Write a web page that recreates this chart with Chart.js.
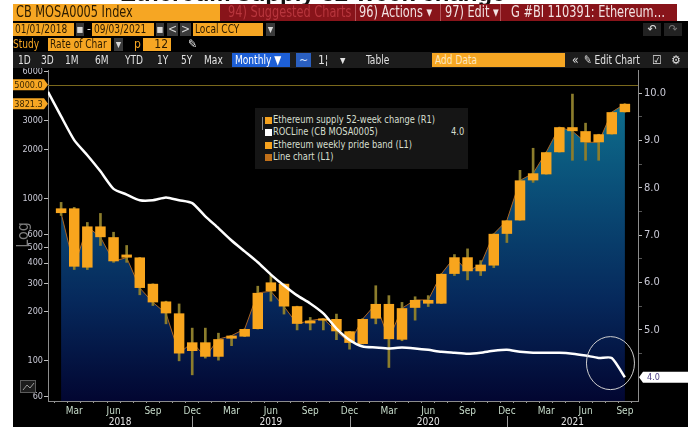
<!DOCTYPE html>
<html>
<head>
<meta charset="utf-8">
<title>CB MOSA0005 Index</title>
<script src="https://cdn.jsdelivr.net/npm/chart.js@4.4.1/dist/chart.umd.min.js"></script>
<style>
  body { margin: 0; width: 688px; height: 427px; overflow: hidden; background: #fff; position: relative;
         font-family: "Liberation Sans Narrow", "DejaVu Sans Condensed", "Liberation Sans", sans-serif; }
  #graphique { position: absolute; left: 0; top: 0; }
  .b { position: absolute; white-space: nowrap; box-sizing: border-box; overflow: visible; }
  .n { display: inline-block; transform: scaleX(0.84); transform-origin: 0 50%; }
  .r1 { top: 4px; height: 17px; line-height: 17px; font-size: 15px; }
  .r2 { top: 23px; height: 13px; line-height: 13px; font-size: 12px; }
  .r3 { top: 38px; height: 13px; line-height: 13px; font-size: 12px; }
  .r4 { top: 53px; height: 14px; line-height: 14px; font-size: 12px; color: #e2e2e2; }
  .or { background: #f6a623; color: #2b1b00; padding-left: 2px; }
  .gr { background: #3a3a3a; color: #d8d8d8; text-align: center; }
  .txt-or { color: #f6a623; }
  #titre { left: 120px; top: -21px; font: bold 24px "Liberation Sans", sans-serif; color: #111; }
  #legende { left: 255px; top: 108px; width: 213px; height: 61px; background: #151515; }
  .leg { position: absolute; left: 18px; font-size: 11px; line-height: 12px; color: #d6dfcf; white-space: nowrap; }
  .carre { position: absolute; left: -8px; top: 3px; width: 7px; height: 7px; }
</style>
</head>
<body>
<canvas id="graphique" width="688" height="427"></canvas>

<!-- titre coupé en haut de la capture -->
<div class="b" id="titre">Ethereum supply 52-week change</div>

<!-- ligne 1 -->
<div class="b r1 or" style="left:13px;width:207px;padding-left:3px;"><span class="n">CB MOSA0005 Index</span></div>
<div class="b r1" style="left:220px;width:457px;background:#88141a;"></div>
<div class="b r1" style="left:228px;color:#b8363d;"><span class="n">94) Suggested Charts</span></div>
<div class="b r1" style="left:355px;width:1px;background:#b5545a;"></div>
<div class="b r1" style="left:359px;color:#f3e4e4;"><span class="n">96) Actions ▾</span></div>
<div class="b r1" style="left:440px;width:1px;background:#b5545a;"></div>
<div class="b r1" style="left:445px;color:#f3e4e4;"><span class="n">97) Edit ▾</span></div>
<div class="b r1" style="left:500px;width:1px;background:#b5545a;"></div>
<div class="b r1" style="left:511px;color:#f3e4e4;"><span class="n">G #BI 110391: Ethereum…</span></div>

<!-- ligne 2 -->
<div class="b r2 or" style="left:13px;width:61px;"><span class="n">01/01/2018</span></div>
<div class="b r2 gr" style="left:76px;width:8px;">▪</div>
<div class="b r2" style="left:87px;color:#ddd;">-</div>
<div class="b r2 or" style="left:92px;width:62px;"><span class="n">09/03/2021</span></div>
<div class="b r2 gr" style="left:156px;width:8px;">▪</div>
<div class="b r2 gr" style="left:167px;width:11px;">&lt;</div>
<div class="b r2 gr" style="left:180px;width:11px;">&gt;</div>
<div class="b r2 or" style="left:193px;width:70px;"><span class="n">Local CCY</span></div>
<div class="b r2 gr" style="left:266px;width:9px;">▾</div>
<div class="b r2 gr" style="left:643px;width:18px;background:#222;color:#e0e0e0;">↶</div>
<div class="b r2 gr" style="left:664px;width:18px;background:#222;color:#777;">↷</div>

<!-- ligne 3 -->
<div class="b r3 txt-or" style="left:13px;"><span class="n">Study</span></div>
<div class="b r3 or" style="left:48px;width:63px;"><span class="n">Rate of Char</span></div>
<div class="b r3 gr" style="left:114px;width:9px;">▾</div>
<div class="b r3 txt-or" style="left:134px;">p</div>
<div class="b r3 or" style="left:143px;width:28px;text-align:right;padding-right:3px;">12</div>
<div class="b r3" style="left:188px;color:#eee;">✎</div>

<!-- ligne 4 -->
<div class="b" style="left:13px;top:52px;width:675px;height:16px;background:#1c1c1c;"></div>
<div class="b r4" style="left:18px;"><span class="n">1D</span></div>
<div class="b r4" style="left:41px;"><span class="n">3D</span></div>
<div class="b r4" style="left:65px;"><span class="n">1M</span></div>
<div class="b r4" style="left:95px;"><span class="n">6M</span></div>
<div class="b r4" style="left:125px;"><span class="n">YTD</span></div>
<div class="b r4" style="left:157px;"><span class="n">1Y</span></div>
<div class="b r4" style="left:181px;"><span class="n">5Y</span></div>
<div class="b r4" style="left:204px;"><span class="n">Max</span></div>
<div class="b r4" style="left:232px;width:58px;background:#1d5fd6;color:#fff;padding-left:3px;"><span class="n">Monthly ▼</span></div>
<div class="b r4" style="left:296px;width:15px;background:#2a5fc0;color:#cfe0ff;text-align:center;">~</div>
<div class="b r4" style="left:318px;">1¦</div>
<div class="b r4" style="left:340px;">▾</div>
<div class="b r4" style="left:366px;"><span class="n">Table</span></div>
<div class="b r4" style="left:432px;width:133px;background:#f6a623;color:#fde7bb;padding-left:3px;"><span class="n">Add Data</span></div>
<div class="b r4" style="left:572px;">«</div>
<div class="b r4" style="left:584px;"><span class="n">✎ Edit Chart</span></div>
<div class="b r4" style="left:652px;">☑</div>
<div class="b r4" style="left:671px;">⚙</div>

<!-- légende -->
<div class="b" id="legende">
  <div class="b" style="left:7px;top:9px;width:1px;height:13px;background:#8a8a8a;"></div>
  <div class="leg" style="top:6px;"><span class="carre" style="background:#f6a21e;"></span><span class="n">Ethereum supply 52-week change (R1)</span></div>
  <div class="leg" style="top:18px;"><span class="carre" style="background:#ffffff;"></span><span class="n">ROCLine (CB MOSA0005)</span></div>
  <div class="leg" style="top:18px;left:196px;"><span class="n">4.0</span></div>
  <div class="leg" style="top:31px;"><span class="carre" style="background:#f6a21e;"></span><span class="n">Ethereum weekly pride band (L1)</span></div>
  <div class="leg" style="top:43px;"><span class="carre" style="background:#c0701a;"></span><span class="n">Line chart (L1)</span></div>
</div>

<script>
// Mois des bougies (barres mensuelles)
const mois = [
  "2018-02", "2018-03", "2018-04", "2018-05", "2018-06", "2018-07", "2018-08", "2018-09", "2018-10", "2018-11", "2018-12",
  "2019-01", "2019-02", "2019-03", "2019-04", "2019-05", "2019-06", "2019-07", "2019-08", "2019-09", "2019-10", "2019-11", "2019-12",
  "2020-01", "2020-02", "2020-03", "2020-04", "2020-05", "2020-06", "2020-07", "2020-08", "2020-09", "2020-10", "2020-11", "2020-12",
  "2021-01", "2021-02", "2021-03", "2021-04", "2021-05", "2021-06", "2021-07", "2021-08", "2021-09"
];
// Ethereum weekly pride band (L1) : ouverture, clôture, haut, bas
const ouvertures = [868, 868, 375, 672, 577, 451, 433, 298, 232, 196, 115, 130, 106, 137, 141, 157, 304, 298, 217, 170, 177, 181,
  152, 127, 182, 224, 135, 212, 225, 225, 343, 434, 356, 386, 605, 732, 1291, 1406, 1924, 2743, 2593, 2482, 2482, 3395];
const clotures = [812, 380, 672, 577, 410, 432, 281, 229, 196, 111, 130, 106, 136, 143, 157, 262, 268, 216, 169, 177, 182, 152,
  129, 181, 224, 136, 211, 237, 237, 343, 434, 356, 391, 605, 732, 1291, 1427, 1924, 2743, 2593, 2215, 2215, 3395, 3821.3];
const hauts = [945, 880, 711, 808, 619, 513, 433, 298, 233, 224, 159, 159, 148, 143, 157, 288, 338, 298, 217, 185, 182, 194,
  152, 182, 290, 252, 229, 248, 252, 343, 451, 489, 414, 605, 732, 1489, 2035, 1924, 2743, 4385, 2904, 2482, 3395, 3821.3];
const bas = [785, 365, 365, 513, 404, 404, 255, 219, 169, 100, 82, 104, 101, 124, 141, 157, 233, 194, 155, 155, 155, 135,
  118, 127, 169, 91, 133, 178, 216, 225, 335, 315, 335, 375, 535, 732, 1255, 1406, 1924, 1716, 1716, 1716, 2482, 3395];
// ROCLine (R1), de janvier 2018 à septembre 2021 (un mois de plus que les bougies)
const rocLine = [10.03, 9.51, 9.01, 8.69, 8.35, 7.98, 7.86, 7.74, 7.74, 7.80, 7.74, 7.68, 7.40, 7.15, 6.89, 6.66, 6.43, 6.17,
  5.94, 5.73, 5.56, 5.35, 5.03, 4.79, 4.65, 4.63, 4.61, 4.63, 4.61, 4.58, 4.54, 4.52, 4.50, 4.52, 4.56, 4.58, 4.54, 4.52,
  4.52, 4.52, 4.50, 4.46, 4.41, 4.41, 4.0];
// Graduations
const ticksGauche = [60, 100, 200, 300, 400, 500, 600, 1000, 2000, 3000, 6000];
const ticksDroite = [5, 6, 7, 8, 9, 10];
const ticksDroiteMineurs = [4.5, 5.5, 6.5, 7.5, 8.5, 9.5];
const nomsMois = { "03": "Mar", "06": "Jun", "09": "Sep", "12": "Dec" };
const annees = ["2018", "2019", "2020", "2021"];
// Repères
const niveauHorizontal = 5000;
const dernierPrix = 3821.3;
const derniereRoc = 4.0;

const police = '"Liberation Sans Narrow", "DejaVu Sans Condensed", "Liberation Sans", sans-serif';

// Étiquette en forme de flèche (valeurs sur les axes)
function etiquette(c, x1, x2, pointe, y, fond, couleurTexte, texte, alignGauche) {
  const h = 11;
  c.beginPath();
  if (pointe > x2) {
    c.moveTo(x1, y - h / 2); c.lineTo(x2, y - h / 2); c.lineTo(pointe, y); c.lineTo(x2, y + h / 2); c.lineTo(x1, y + h / 2);
  } else {
    c.moveTo(x2, y - h / 2); c.lineTo(x1, y - h / 2); c.lineTo(pointe, y); c.lineTo(x1, y + h / 2); c.lineTo(x2, y + h / 2);
  }
  c.closePath();
  c.fillStyle = fond;
  c.fill();
  c.fillStyle = couleurTexte;
  c.font = "9px " + police;
  c.textBaseline = "middle";
  if (alignGauche) {
    c.textAlign = "left";
    c.fillText(texte, x1 + 4, y + 0.5);
  } else {
    c.textAlign = "center";
    c.fillText(texte, (x1 + x2) / 2, y + 0.5);
  }
}

const decor = {
  id: "decor",
  beforeDraw(chart) {
    const c = chart.ctx;
    c.save();
    c.fillStyle = "#ffffff";
    c.fillRect(0, 0, 688, 427);
    c.fillStyle = "#000000";
    c.fillRect(13, 21, 675, 406);
    c.restore();
  },
  afterDatasetsDraw(chart) {
    const c = chart.ctx;
    const zone = chart.chartArea;
    const yL = chart.scales.yL;
    const yR = chart.scales.yR;
    const x = chart.scales.x;
    c.save();
    // ligne horizontale à 5000
    const y5000 = Math.round(yL.getPixelForValue(niveauHorizontal)) + 0.5;
    c.strokeStyle = "#7a681c";
    c.lineWidth = 1;
    c.beginPath();
    c.moveTo(zone.left, y5000);
    c.lineTo(zone.right, y5000);
    c.stroke();
    // cercle autour de la fin du ROCLine
    c.strokeStyle = "#cfcfcf";
    c.beginPath();
    c.ellipse(x.getPixelForValue(41.9), yR.getPixelForValue(4.3), 24, 26.5, 0, 0, Math.PI * 2);
    c.stroke();
    c.restore();
  },
  afterDraw(chart) {
    const c = chart.ctx;
    const zone = chart.chartArea;
    const yL = chart.scales.yL;
    const yR = chart.scales.yR;
    const x = chart.scales.x;
    c.save();
    // étiquettes de valeurs
    etiquette(c, 13, 44, zone.left, yL.getPixelForValue(niveauHorizontal), "#f6a623", "#3a2600", niveauHorizontal.toFixed(1));
    etiquette(c, 13, 44, zone.left, yL.getPixelForValue(dernierPrix), "#f6a623", "#3a2600", dernierPrix.toFixed(1));
    etiquette(c, 643, 688, zone.right + 1, yR.getPixelForValue(derniereRoc), "#ffffff", "#4b3d86", derniereRoc.toFixed(1), true);

    // séparateurs et libellés des années
    const limites = [zone.left];
    for (let i = 0; i < mois.length; i++) {
      if (mois[i].endsWith("-12")) limites.push(x.getPixelForValue(i));
    }
    limites.push(zone.right);
    c.strokeStyle = "#9a9a9a";
    c.lineWidth = 1;
    for (let i = 1; i < limites.length - 1; i++) {
      const xs = Math.round(limites[i]) + 0.5;
      c.beginPath();
      c.moveTo(xs, 416);
      c.lineTo(xs, 427);
      c.stroke();
    }
    c.fillStyle = "#e4e4e4";
    c.font = "10px " + police;
    c.textAlign = "center";
    c.textBaseline = "middle";
    for (let i = 0; i < annees.length; i++) {
      c.fillText(annees[i], (limites[i] + limites[i + 1]) / 2, 422);
    }

    // texte "Log" vertical
    c.save();
    c.translate(28, 235);
    c.rotate(-Math.PI / 2);
    c.fillStyle = "#7d7d7d";
    c.font = "16px " + police;
    c.textAlign = "center";
    c.textBaseline = "alphabetic";
    c.fillText("Log", 0, 0);
    c.restore();

    // petite icône en bas à gauche
    c.fillStyle = "#1d1d1d";
    c.fillRect(20, 380, 16, 13);
    c.strokeStyle = "#5c5c5c";
    c.strokeRect(20.5, 380.5, 15, 12);
    c.strokeStyle = "#9a9a9a";
    c.beginPath();
    c.moveTo(23, 390); c.lineTo(27, 385); c.lineTo(30, 388); c.lineTo(34, 383);
    c.stroke();
    c.restore();
  }
};

// Données des jeux de données
const corps = mois.map((m, i) => ({ x: i, y: [ouvertures[i], clotures[i]] }));
const meches = mois.map((m, i) => ({ x: i, y: [bas[i], hauts[i]] }));
const ligneClotures = mois.map((m, i) => ({ x: i, y: clotures[i] }));
const ligneRoc = rocLine.map((v, i) => ({ x: i - 1, y: v }));

function degrade(context) {
  const zone = context.chart.chartArea;
  if (!zone) return "rgba(0,0,0,0)";
  const g = context.chart.ctx.createLinearGradient(0, zone.top, 0, zone.bottom);
  g.addColorStop(0, "#0f7a94");
  g.addColorStop(0.35, "#0a5079");
  g.addColorStop(0.7, "#06285b");
  g.addColorStop(1, "#020631");
  return g;
}

const config = {
  type: "bar",
  data: {
    datasets: [
      {
        type: "line",
        label: "ROCLine (CB MOSA0005)",
        data: ligneRoc,
        yAxisID: "yR",
        borderColor: "#ffffff",
        borderWidth: 2.5,
        pointRadius: 0,
        tension: 0.2,
        order: 0
      },
      {
        type: "bar",
        label: "Ethereum weekly pride band (L1)",
        data: corps,
        yAxisID: "yL",
        backgroundColor: "#f8a51d",
        grouped: false,
        categoryPercentage: 1,
        barPercentage: 0.8,
        minBarLength: 2,
        order: 1
      },
      {
        type: "bar",
        label: "Mèches",
        data: meches,
        yAxisID: "yL",
        backgroundColor: "#8c7d2c",
        grouped: false,
        barThickness: 2,
        order: 2
      },
      {
        type: "line",
        label: "Line chart (L1)",
        data: ligneClotures,
        yAxisID: "yL",
        borderColor: "#ad6520",
        borderWidth: 1,
        pointRadius: 0,
        fill: "start",
        backgroundColor: degrade,
        order: 3
      }
    ]
  },
  options: {
    responsive: false,
    animation: false,
    devicePixelRatio: 1,
    layout: { padding: { top: 70, left: 0, right: 0, bottom: 0 } },
    plugins: { legend: { display: false }, tooltip: { enabled: false } },
    scales: {
      x: {
        type: "linear",
        min: -1,
        max: 44,
        offset: false,
        afterFit: (s) => { s.height = 26; },
        afterBuildTicks: (s) => { s.ticks = mois.map((m, i) => ({ value: i })); },
        ticks: {
          autoSkip: false,
          maxRotation: 0,
          padding: 2,
          color: "#c6dbca",
          font: { family: police, size: 10 },
          callback: (v) => nomsMois[(mois[v] || "").slice(5)] || ""
        },
        grid: { drawOnChartArea: false, drawTicks: true, tickLength: 2, tickColor: "#9a9a9a" },
        border: { display: true, color: "#8c8c8c" }
      },
      yL: {
        type: "logarithmic",
        position: "left",
        min: 56.6,
        max: 6170,
        afterFit: (s) => { s.width = 48; },
        afterBuildTicks: (s) => { s.ticks = ticksGauche.map((v) => ({ value: v })); },
        ticks: {
          padding: 1,
          color: "#cacad6",
          font: { family: police, size: 9 },
          callback: (v) => String(v)
        },
        grid: { drawOnChartArea: false, drawTicks: true, tickLength: 4, tickColor: "#bdbdbd" },
        border: { display: true, color: "#8c8c8c" }
      },
      yR: {
        type: "linear",
        position: "right",
        min: 3.5,
        max: 10.49,
        afterFit: (s) => { s.width = 50; },
        afterBuildTicks: (s) => {
          s.ticks = ticksDroite.concat(ticksDroiteMineurs).sort((a, b) => a - b).map((v) => ({ value: v }));
        },
        ticks: {
          padding: 2,
          color: "#cacad6",
          font: { family: police, size: 11 },
          callback: (v) => (ticksDroite.includes(v) ? v.toFixed(1) : "")
        },
        grid: {
          drawOnChartArea: false,
          drawTicks: true,
          tickLength: 4,
          tickColor: (ctx) => (ctx.tick && ticksDroite.includes(ctx.tick.value) ? "#bdbdbd" : "#555555")
        },
        border: { display: true, color: "#8c8c8c" }
      }
    }
  },
  plugins: [decor]
};

new Chart(document.querySelector("#graphique"), config);
</script>
</body>
</html>
